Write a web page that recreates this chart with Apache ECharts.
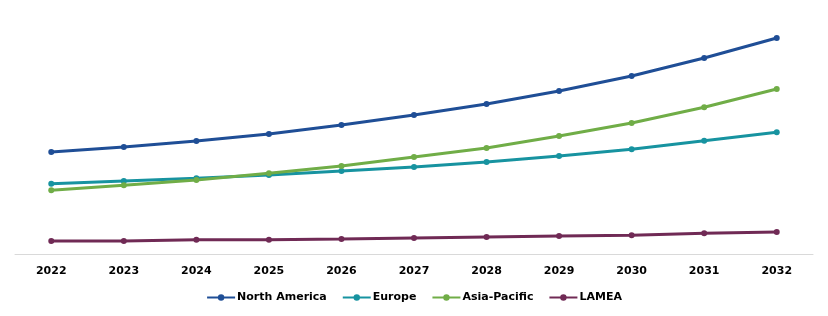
<!DOCTYPE html>
<html><head><meta charset="utf-8">
<script src="https://cdn.jsdelivr.net/npm/echarts@6/dist/echarts.min.js"></script>
<style>html,body{margin:0;padding:0;background:#fff}#c{width:828px;height:316px}</style>
</head><body><div id="c"></div>
<script>
const years = ['2022','2023','2024','2025','2026','2027','2028','2029','2030','2031','2032'];
const northAmerica = [102, 107, 113, 120, 129, 139, 150, 163, 178, 196, 216];
const europe = [70.3, 73, 75.7, 79, 83, 87, 92, 98, 104.7, 113.3, 121.7];
const asiaPacific = [63.7, 68.7, 74, 80.7, 88, 97, 106, 118, 131, 146.7, 165];
const lamea = [13, 13, 14.3, 14.3, 15, 16, 17, 18, 18.7, 20.7, 22];

const font = 'DejaVu Sans';
function s(name, data, color) {
  return { name, type: 'line', data, symbol: 'circle', symbolSize: 6,
    lineStyle: { width: 3, color }, itemStyle: { color }, animation: false };
}
const chart = echarts.init(document.getElementById('c'));
chart.setOption({
  animation: false,
  grid: { left: 15, right: 15, top: 34, bottom: 62 },
  legend: { top: 287, left: 'center', itemWidth: 28, itemHeight: 8, itemGap: 15,
    textStyle: { fontFamily: font, fontWeight: 'bold', fontSize: 11, color: '#000', padding: [0,0,0,-3] },
    data: ['North America','Europe','Asia-Pacific','LAMEA'] },
  xAxis: { type: 'category', data: years, boundaryGap: true,
    axisLine: { lineStyle: { color: '#d9d9d9', width: 1 } }, axisTick: { show: false },
    axisLabel: { fontFamily: font, fontWeight: 'bold', fontSize: 11, color: '#000', margin: 12 } },
  yAxis: { type: 'value', min: 0, max: 220, show: false, splitLine: { show: false } },
  series: [
    s('North America', northAmerica, '#1f4e96'),
    s('Europe', europe, '#1793a0'),
    s('Asia-Pacific', asiaPacific, '#70ad47'),
    s('LAMEA', lamea, '#702a55')
  ]
});
</script></body></html>
